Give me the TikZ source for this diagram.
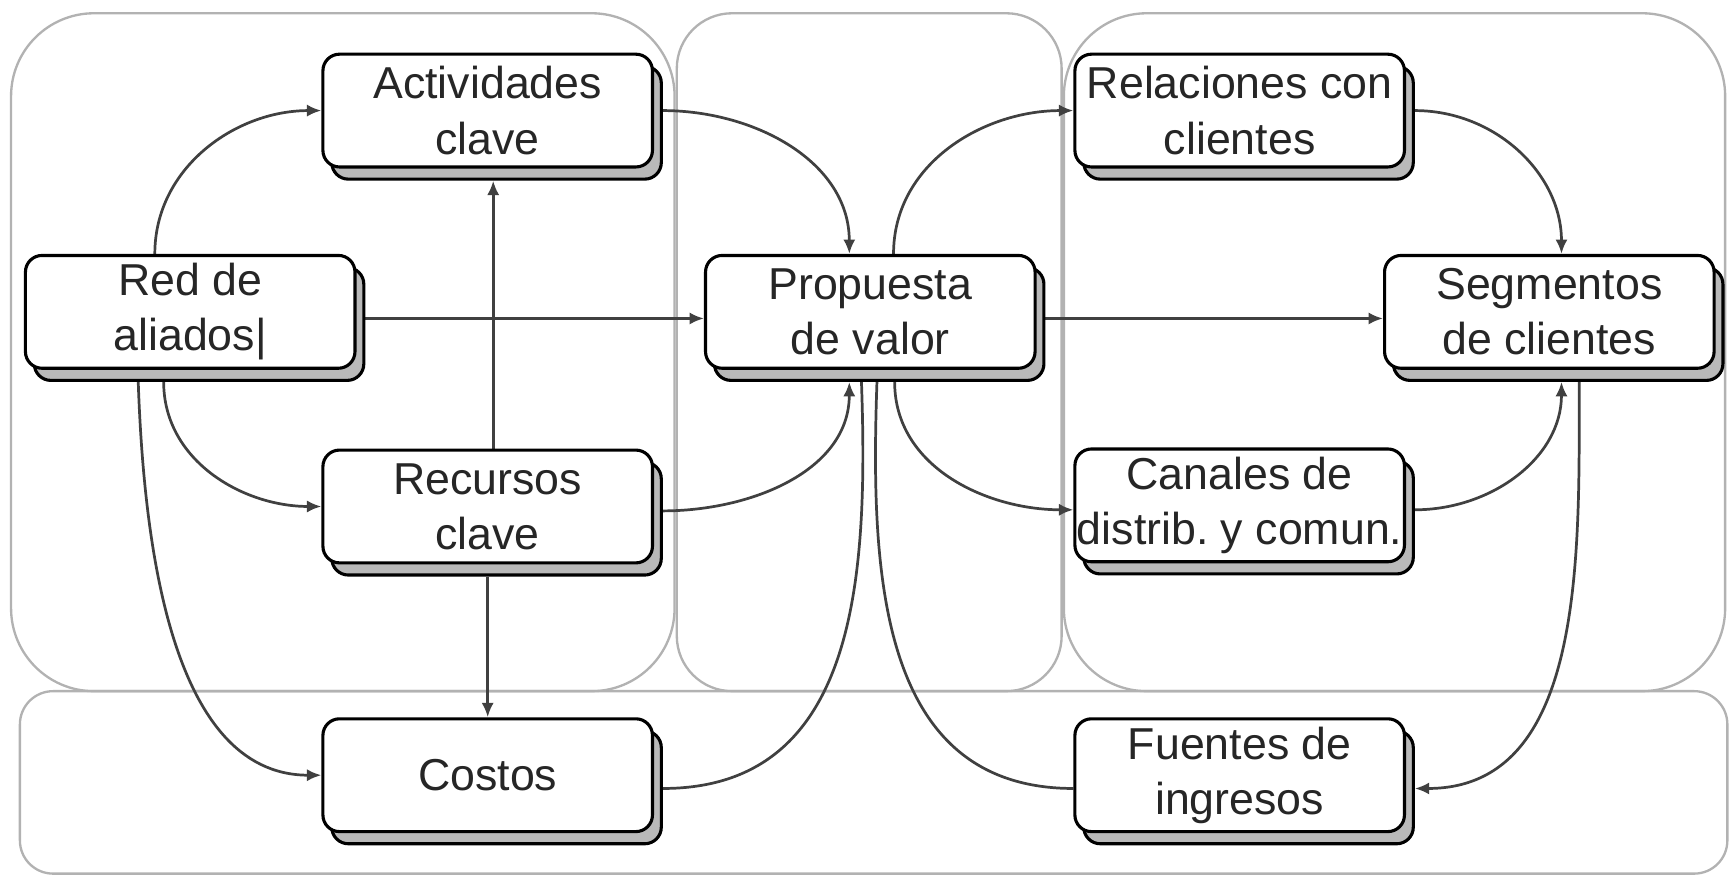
\documentclass[tikz,border=0pt]{standalone}
\usepackage{fontspec}
\setmainfont{Liberation Sans}
\usetikzlibrary{arrows.meta,shadows}
\pgfdeclarelayer{panels}
\pgfdeclarelayer{edges}
\pgfsetlayers{panels,edges,main}
\frenchspacing
\begin{document}
\begin{tikzpicture}[x=0.1mm,y=-0.1mm,
  box/.style={draw=black, line width=0.8pt, rounded corners=1.5mm, fill=white,
    minimum width=29.8mm, minimum height=10.2mm, inner sep=0pt, align=center,
    font=\fontsize{11.5}{14.2}\selectfont, text=black!85,
    general shadow={shadow xshift=0.8mm, shadow yshift=-1.1mm, fill=gray!55, draw=black, line width=0.8pt}},
  panel/.style={draw=gray!60, line width=0.6pt},
  conn/.style={draw=black!75, line width=0.7pt},
  arr/.style={conn, -{Latex[length=1.3mm,width=1.1mm]}}
]
\useasboundingbox (0,0) rectangle (1568,791);

% nodes
\node[box] (act)  at (441,100) {Actividades\\clave};
\node[box] (red)  at (172,282) {Red de\\aliados|};
\node[box] (rec)  at (441,458) {Recursos\\clave};
\node[box] (cost) at (441,701) {Costos};
\node[box] (prop) at (787,282) {Propuesta\\de valor};
\node[box] (rel)  at (1121,100) {Relaciones con\\clientes};
\node[box] (seg)  at (1401,282) {Segmentos\\de clientes};
\node[box] (can)  at (1121,457) {Canales de\\distrib. y comun.};
\node[box] (fue)  at (1121,701) {Fuentes de\\ingresos};

\begin{pgfonlayer}{panels}
  \draw[panel, rounded corners=7.5mm] (10,12) rectangle (610,625);
  \draw[panel, rounded corners=5mm] (612,12) rectangle (960,625);
  \draw[panel, rounded corners=7.5mm] (962,12) rectangle (1560,625);
  \draw[panel, rounded corners=3mm] (18,625) rectangle (1562,790);
\end{pgfonlayer}

\begin{pgfonlayer}{edges}
  % left side
  \draw[arr] ([xshift=-3.2mm]red.north) to[out=90,in=180] (act.west);
  \draw[arr] ([xshift=0.8mm,yshift=-0.6mm]red.east) -- ([yshift=-0.6mm]prop.west);
  \draw[arr] ([xshift=-2.4mm,yshift=-1.1mm]red.south) to[out=-90,in=180] (rec.west);
  \draw[arr] ([xshift=-4.7mm,yshift=-1.1mm]red.south) to[out=-88,in=180,looseness=0.9] (cost.west);
  \draw[arr] ([xshift=0.5mm]rec.north) -- ([xshift=0.5mm,yshift=-1.1mm]act.south);
  \draw[arr] ([yshift=-1.1mm]rec.south) -- (cost.north);
  % into value proposition
  \draw[arr] ([xshift=0.8mm]act.east) to[out=0,in=90] ([xshift=-1.9mm]prop.north);
  \draw[arr] ([xshift=0.8mm,yshift=-0.4mm]rec.east) to[out=0,in=-90] ([xshift=-1.9mm,yshift=-1.1mm]prop.south);
  \draw[conn] ([xshift=0.8mm,yshift=-1.2mm]cost.east) to[out=0,in=-88,looseness=1.1] ([xshift=-0.8mm,yshift=-1.1mm]prop.south);
  \draw[conn] ([yshift=-1.2mm]fue.west) to[out=180,in=-92,looseness=1.1] ([xshift=0.6mm,yshift=-1.1mm]prop.south);
  % right side
  \draw[arr] ([xshift=2.1mm]prop.north) to[out=90,in=180] (rel.west);
  \draw[arr] ([xshift=0.8mm,yshift=-0.6mm]prop.east) -- ([yshift=-0.6mm]seg.west);
  \draw[arr] ([xshift=2.2mm,yshift=-1.1mm]prop.south) to[out=-90,in=180] ([yshift=-0.4mm]can.west);
  \draw[arr] ([xshift=0.8mm]rel.east) to[out=0,in=90] ([xshift=1.1mm]seg.north);
  \draw[arr] ([xshift=0.8mm,yshift=-0.4mm]can.east) to[out=0,in=-90] ([xshift=1.1mm,yshift=-1.1mm]seg.south);
  \draw[arr] ([xshift=2.7mm,yshift=-1.1mm]seg.south) to[out=-90,in=0] ([xshift=0.8mm,yshift=-1.2mm]fue.east);
\end{pgfonlayer}
\end{tikzpicture}
\end{document}
